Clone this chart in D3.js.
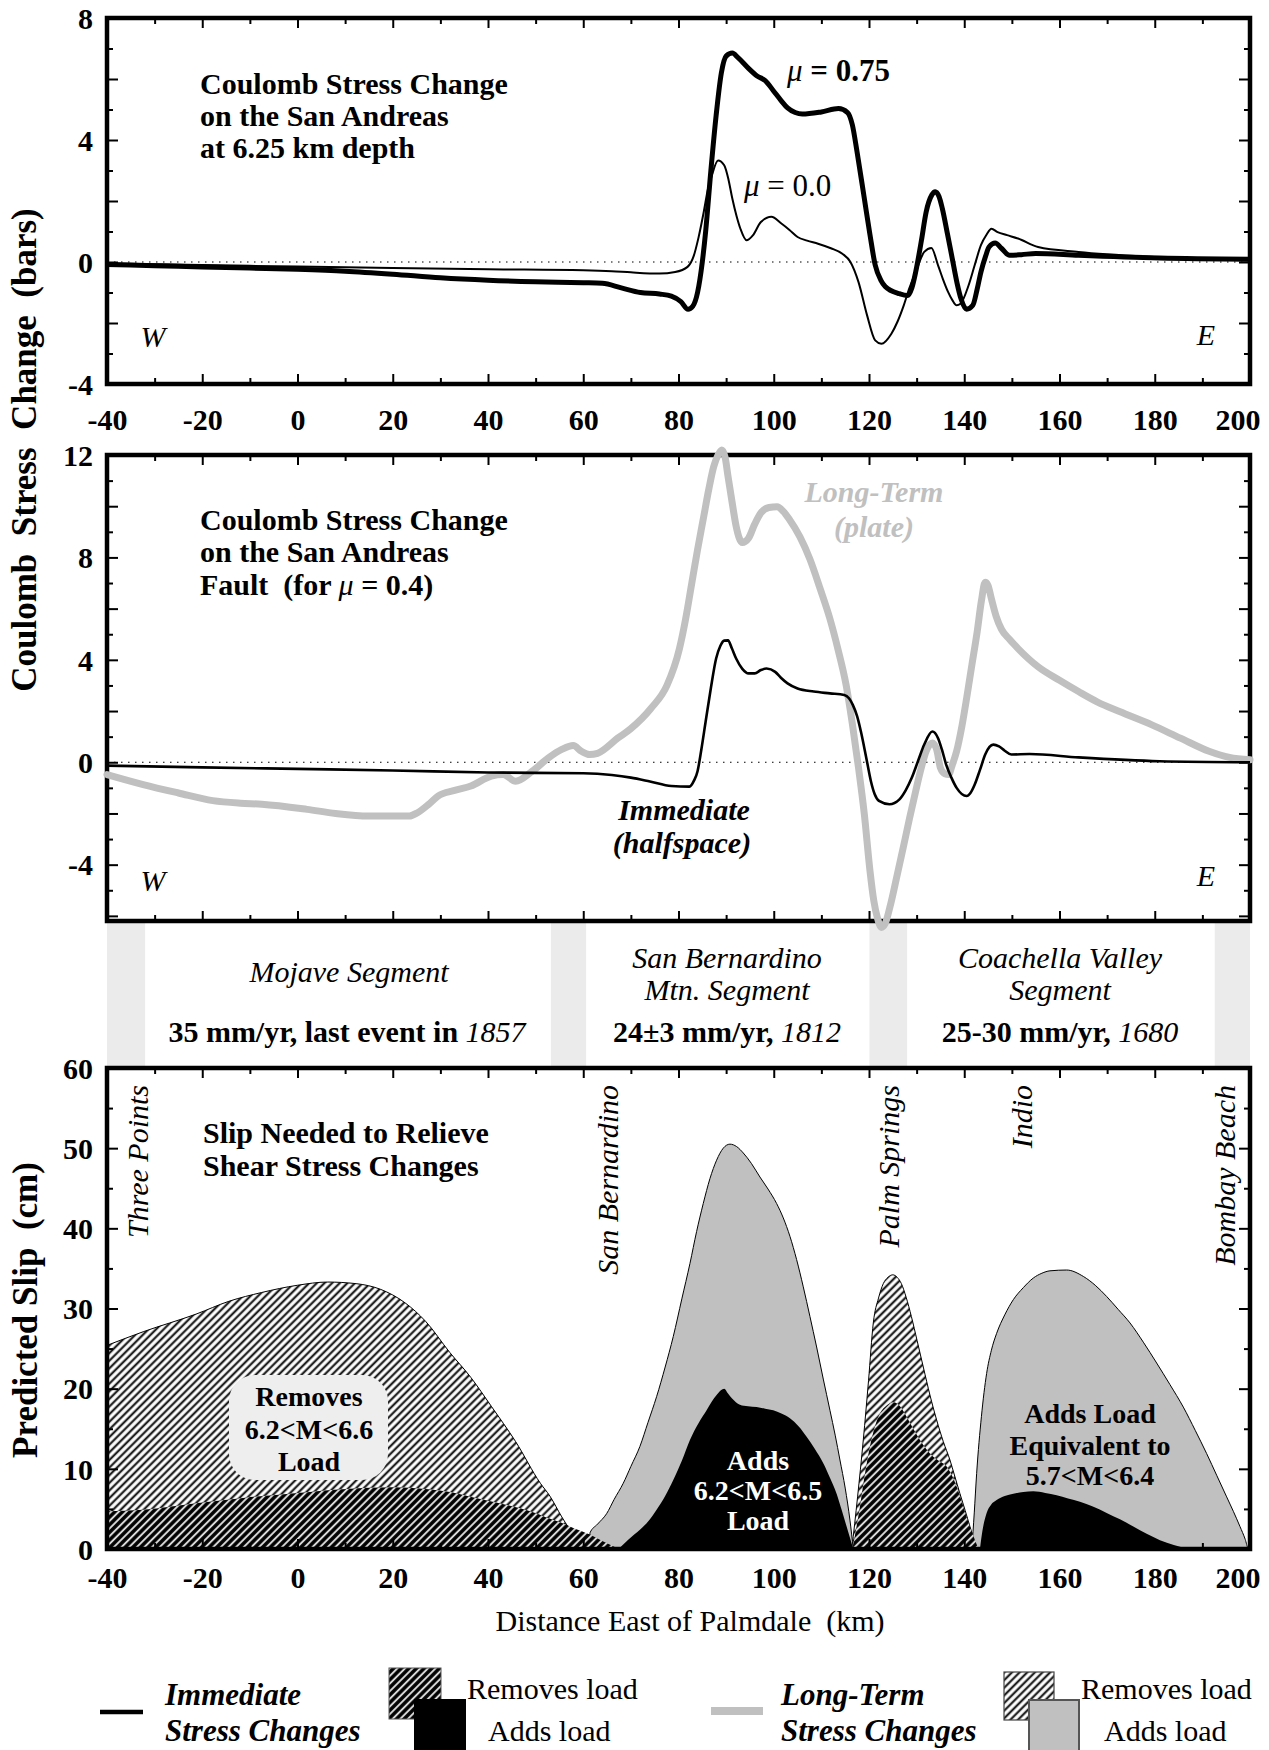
<!DOCTYPE html>
<html><head><meta charset="utf-8">
<script src="https://cdn.jsdelivr.net/npm/d3@7"></script>
<style>
body{margin:0;background:#fff;}
svg{display:block;}
</style></head><body>
<svg id="c" width="1269" height="1750"></svg>
<script>
// ---------------- DATA ----------------
const xTickLabels = [-40,-20,0,20,40,60,80,100,120,140,160,180,200];
const p1TickLabels = [8,4,0,-4];
const p2TickLabels = [12,8,4,0,-4];
const p3TickLabels = [0,10,20,30,40,50,60];

// Panel 1: Coulomb stress change at 6.25 km depth [km, bars]
const mu075 = [[-40,-0.08],[-30,-0.12],[-20,-0.16],[-10,-0.2],[0,-0.24],[10,-0.3],[20,-0.4],[30,-0.52],[40,-0.6],[50,-0.65],[60,-0.68],[64,-0.7],[68,-0.85],[72,-1.0],[76,-1.05],[78.5,-1.12],[80.5,-1.3],[82,-1.55],[83,-1.45],[84,-1.0],[85,0.0],[85.7,1.0],[86.8,3.0],[87.9,4.8],[89,6.2],[90,6.75],[91.3,6.85],[92.5,6.7],[94.7,6.35],[96.5,6.1],[98.2,5.95],[100,5.6],[101.5,5.3],[102.9,5.05],[104.5,4.9],[106,4.85],[110,4.92],[113.6,5.03],[115.5,4.9],[116.5,4.5],[117.5,3.6],[119,2.1],[120.2,0.9],[121.3,-0.1],[122.5,-0.6],[123.4,-0.8],[126.4,-1.04],[128.1,-1.1],[129,-0.85],[129.8,-0.33],[131,0.7],[132,1.64],[133.2,2.2],[133.9,2.3],[134.7,2.15],[135.4,1.75],[136.5,0.9],[137.5,0.1],[138.5,-0.7],[139.3,-1.2],[140.5,-1.55],[141.8,-1.42],[142.7,-0.9],[143.5,-0.33],[144.5,0.2],[145.2,0.49],[146.5,0.62],[147.8,0.45],[149.5,0.22],[152,0.24],[155,0.28],[164,0.22],[181,0.13],[200,0.09]];
const mu00 = [[-40,-0.05],[-20,-0.1],[0,-0.15],[20,-0.2],[40,-0.24],[60,-0.27],[66,-0.3],[70,-0.34],[76,-0.38],[79.3,-0.33],[81.9,-0.16],[83.2,0.2],[84.2,0.8],[85.3,1.64],[86.2,2.4],[87,2.84],[88.3,3.33],[89.6,3.17],[90.5,2.7],[91.3,2.08],[92.2,1.5],[93,1.09],[94.3,0.71],[95.6,0.87],[97.3,1.31],[99.5,1.48],[101.6,1.26],[103.3,1.05],[105,0.82],[107,0.7],[109.3,0.6],[112,0.45],[114.4,0.27],[116.1,0.0],[117.8,-0.66],[119.6,-1.75],[121.3,-2.57],[122.6,-2.68],[124.7,-2.35],[126,-1.95],[127.3,-1.42],[128.5,-0.85],[129.8,-0.33],[131.6,0.33],[133.1,0.46],[134.5,-0.11],[135.5,-0.55],[136.6,-0.98],[137.5,-1.25],[138.4,-1.42],[139.2,-1.37],[140.9,-0.77],[142.2,-0.1],[143.5,0.55],[144.7,0.9],[145.7,1.09],[147,0.98],[149,0.88],[151.3,0.77],[155.5,0.49],[164,0.33],[181,0.16],[200,0.05]];

// Panel 2: Coulomb stress change for mu = 0.4 [km, bars]
const immediate = [[-40,-0.13],[-20,-0.2],[0,-0.26],[20,-0.32],[40,-0.4],[60,-0.43],[66,-0.5],[70,-0.6],[74,-0.75],[78.5,-0.93],[82.3,-0.95],[83.3,-0.7],[84,-0.35],[84.8,0.5],[85.7,1.59],[86.8,2.9],[87.9,4.05],[88.8,4.55],[89.6,4.75],[90.4,4.76],[91.2,4.45],[92.1,4.05],[93.4,3.65],[94.7,3.47],[96,3.47],[97.3,3.6],[98.5,3.66],[100.3,3.53],[101.5,3.3],[102.9,3.08],[105,2.88],[108.4,2.76],[111.8,2.69],[114.8,2.63],[115.8,2.5],[116.6,2.24],[117.5,1.8],[118.3,1.2],[119.4,0.2],[120.4,-0.74],[121.2,-1.25],[122.1,-1.51],[124.3,-1.64],[126.4,-1.45],[127.7,-1.1],[129,-0.6],[130.3,0.05],[131.6,0.69],[133.3,1.2],[134.5,0.94],[135.3,0.5],[136.2,-0.09],[137.3,-0.6],[138.4,-1.0],[140.5,-1.32],[141.3,-1.2],[142.2,-0.87],[143.3,-0.3],[144.4,0.3],[145.3,0.6],[146.1,0.69],[147.3,0.62],[148.5,0.45],[149.9,0.3],[153.7,0.32],[164,0.19],[181,0.04],[200,0.0]];
const longTerm = [[-40,-0.48],[-32.4,-0.87],[-25,-1.2],[-17.8,-1.5],[-12,-1.6],[-7.5,-1.64],[2,-1.84],[8,-2.0],[14.9,-2.1],[23.5,-2.1],[25.2,-1.97],[27.5,-1.65],[29.5,-1.32],[33,-1.1],[36.4,-0.93],[40.7,-0.54],[43.2,-0.48],[45.8,-0.74],[49.3,-0.35],[52.7,0.17],[55.5,0.5],[57.9,0.65],[59.6,0.43],[61.3,0.3],[63,0.35],[67.3,0.95],[69.9,1.3],[74.2,2.1],[77.6,3.01],[80.2,4.44],[81.5,5.6],[82.7,6.9],[84,8.3],[85.3,9.6],[86.4,10.7],[87.4,11.55],[88.3,12.0],[89.1,12.2],[89.8,11.9],[90.4,11.16],[91.3,10.1],[92.1,9.22],[93.4,8.58],[94.7,8.75],[96,9.3],[97.3,9.74],[99,9.95],[100.7,9.98],[102,9.8],[103.3,9.48],[105.5,8.8],[107.6,7.93],[109.7,6.8],[111.8,5.6],[113.5,4.4],[115.2,3.01],[116.5,1.5],[117.8,-0.22],[119,-2.0],[120.2,-4.23],[121,-5.4],[121.8,-6.1],[122.6,-6.45],[123.4,-6.3],[124.4,-5.65],[125.8,-4.5],[127.2,-3.32],[128.5,-2.2],[129.8,-1.13],[131,-0.2],[132,0.43],[133.3,0.75],[134.2,0.5],[135,-0.22],[135.9,-0.45],[136.7,-0.48],[137.5,-0.1],[138.4,0.43],[139.5,1.4],[140.5,2.5],[141.6,3.8],[142.7,5.08],[143.6,6.3],[144.4,7.03],[145,6.9],[145.7,6.39],[146.7,5.7],[147.8,5.2],[149.5,4.8],[151.3,4.44],[155.5,3.73],[160,3.2],[164,2.76],[168,2.35],[172.6,1.98],[179.4,1.46],[185.4,0.94],[191.4,0.43],[195.7,0.19],[200,0.1]];

// Segment band: shaded gaps [km start, km end]
const gapStripes = [[-40,-32],[53.2,60.6],[120.1,128],[192.6,200]];

// Panel 3: predicted slip [km, cm]
const ltRemovesA = [[-40,25.4],[-32.4,27.1],[-21.3,29.3],[-14.4,30.9],[-7.5,32.0],[0,32.9],[6.3,33.3],[12.3,33.1],[17.4,32.4],[22.6,30.7],[26.9,28.4],[32,24.5],[36.4,21.4],[40.7,17.8],[45.8,13.4],[51,8.2],[53,6.6],[55.5,4.0],[57,2.6],[58.5,1.4],[60,0]];
const ltRemovesB = [[116.4,0],[117.6,6.5],[118.8,13.6],[119.9,21],[120.9,28.2],[122,31.3],[123,33.1],[124,33.9],[125,34.2],[125.9,33.9],[126.8,33.1],[127.8,31.4],[128.9,29.0],[130.1,26],[131.4,22.7],[132.8,19.2],[134.2,16.1],[135.6,13.4],[137.0,11.1],[138,9.1],[139.1,6.9],[140.2,4.8],[141.2,2.8],[142.1,1.2],[143,0]];
const ltAddsA = [[61.4,0],[61.4,2.0],[63,3.1],[64.9,4.4],[66.5,6.2],[68.4,8.2],[70,10.3],[71.9,12.8],[73.6,15.8],[75.4,19.0],[77.2,22.7],[78.9,26.5],[80.7,31.2],[82.4,35.6],[83.8,39.6],[85.2,43.1],[86.6,46.2],[88.0,48.5],[89.4,50.0],[90.8,50.5],[92.2,50.2],[93.6,49.4],[95.3,48.1],[97.1,46.4],[98.8,44.9],[100.6,43.1],[102,41.3],[103.4,39.0],[104.8,36.1],[106.2,32.7],[107.6,29.0],[109.0,25.2],[110.4,21.2],[111.8,17.3],[112.9,14.2],[113.9,11.1],[115,7.6],[116,3.6],[116.7,0]];
const ltAddsB = [[141.6,0],[142.1,4.5],[142.6,9.4],[143.6,16.5],[144.7,21.9],[145.7,24.8],[146.8,26.9],[148.5,29.2],[150.3,31.1],[152.4,32.6],[154.5,33.8],[156.3,34.4],[158,34.7],[161.5,34.8],[165,34.0],[167.5,32.9],[169.9,31.5],[172.3,29.9],[174.8,28.2],[177.6,25.8],[180.4,23.2],[183.2,20.5],[186,17.7],[188.5,14.8],[190.9,11.9],[193,9.2],[195.1,6.5],[196.5,4.7],[197.9,2.8],[199,1.2],[199.6,0.1],[200,0]];
const imRemovesA = [[-40,4.7],[-32.4,4.9],[-21.3,5.7],[-11,6.4],[0,7.0],[10.3,7.5],[20,7.7],[26.9,7.5],[32,7.1],[37.2,6.4],[42.4,5.7],[49.3,4.6],[52,4.0],[55.3,3.3],[58,2.6],[61.4,1.8],[64,1.0],[67.5,0]];
const imRemovesB = [[116.5,0],[117.3,2.5],[118.1,5.3],[119.1,9.2],[120.2,12.8],[121.2,15.2],[122.3,16.9],[123.7,17.9],[125.1,18.3],[126.5,17.8],[127.9,16.5],[129.3,15.0],[130.7,13.6],[132.1,12.4],[133.5,11.5],[134.9,10.9],[136.3,10.3],[137.4,9.2],[138.4,7.8],[139.5,5.9],[140.5,4.0],[141.8,1.8],[143,0]];
const imAddsA = [[67.4,0],[69.5,1.2],[71.9,2.4],[73.7,3.5],[75.4,4.9],[77.2,6.6],[78.9,8.6],[80.7,11.0],[82.4,13.6],[84.2,15.7],[85.9,17.3],[87,18.4],[88.0,19.2],[88.9,19.8],[89.6,20.0],[90.4,19.4],[91.2,18.8],[92.9,18.0],[94.6,17.8],[96.4,17.7],[98.2,17.5],[99.9,17.3],[101.6,16.9],[103.4,16.3],[105.2,15.3],[106.9,14.0],[108.6,12.5],[110.4,10.7],[111.8,8.9],[113.2,6.9],[114.3,4.8],[115.3,2.8],[116.7,0]];
const imAddsB = [[143.3,0],[143.8,2.2],[144.7,4.5],[145.6,5.5],[146.8,6.1],[148.5,6.6],[150.3,6.9],[152.4,7.1],[154.5,7.2],[157,7.0],[159.4,6.7],[161.8,6.3],[164.3,5.9],[167,5.3],[169.9,4.5],[172.7,3.7],[175.5,2.8],[178.3,1.9],[181.1,1.1],[184,0.5],[187,0]];

// Town names and their km positions
const towns = ["Three Points","San Bernardino","Palm Springs","Indio","Bombay Beach"];
const townKm = [-33.5,65.2,124.2,152.1,194.8];

// ---------------- LAYOUT ----------------
const FONT = '"Liberation Serif","Times New Roman",Times,serif';
const svg = d3.select("#c").attr("font-family", FONT);
const X0 = 107, X1 = 1250;
const x = d3.scaleLinear().domain([-40,200]).range([X0,X1]);
const y1 = d3.scaleLinear().domain([-4,8]).range([384,18]);
const y2 = d3.scaleLinear().domain([-6.2,12]).range([921,455]);
const y3 = d3.scaleLinear().domain([0,60]).range([1549,1068]);

const defs = svg.append("defs");
function hatch(id, bg, fg, w, per){
  const p = defs.append("pattern").attr("id",id).attr("patternUnits","userSpaceOnUse")
    .attr("width",per).attr("height",per).attr("patternTransform","rotate(45)");
  p.append("rect").attr("width",per).attr("height",per).attr("fill",bg);
  p.append("line").attr("x1",per/2).attr("y1",-1).attr("x2",per/2).attr("y2",per+1).attr("stroke",fg).attr("stroke-width",w);
}
hatch("hatchLight","#ffffff","#222222",2.3,5.4);
hatch("hatchDark","#000000","#d8d8d8",2.0,5.4);

const range = (a,b,s)=>d3.range(a,b+s/2,s);
const xMajor = range(-40,200,20), xMinor = range(-30,190,20);

function ticks(y, yMajor, yMinor){
  const [bot, top] = y.range();
  const defsAx = [
    [d3.axisBottom(x).tickValues(xMajor).tickSize(-10), `translate(0,${bot})`],
    [d3.axisBottom(x).tickValues(xMinor).tickSize(-6), `translate(0,${bot})`],
    [d3.axisTop(x).tickValues(xMajor).tickSize(-10), `translate(0,${top})`],
    [d3.axisTop(x).tickValues(xMinor).tickSize(-6), `translate(0,${top})`],
    [d3.axisLeft(y).tickValues(yMajor).tickSize(-11), `translate(${X0},0)`],
    [d3.axisLeft(y).tickValues(yMinor).tickSize(-6), `translate(${X0},0)`],
    [d3.axisRight(y).tickValues(yMajor).tickSize(-11), `translate(${X1},0)`],
    [d3.axisRight(y).tickValues(yMinor).tickSize(-6), `translate(${X1},0)`]
  ];
  defsAx.forEach(([ax,tr])=>{
    const g = svg.append("g").attr("transform",tr).call(ax.tickFormat(""));
    g.select(".domain").remove();
    g.selectAll("line").attr("stroke","#000").attr("stroke-width",2);
  });
}
function frame(y){
  const [bot, top] = y.range();
  svg.append("rect").attr("x",X0).attr("y",top).attr("width",X1-X0).attr("height",bot-top)
    .attr("fill","none").attr("stroke","#000").attr("stroke-width",4.5);
}
function yLabels(y, vals){
  const g = svg.append("g").attr("transform",`translate(${X0},0)`)
    .call(d3.axisLeft(y).tickValues(vals).tickSize(0).tickPadding(14).tickFormat(d=>String(d)));
  g.select(".domain").remove();
  g.attr("font-family",FONT).attr("font-size",30);
  g.selectAll("text").attr("fill","#000").attr("dy","0.34em").attr("font-weight","bold")
    .attr("font-family",FONT).attr("font-size",30);
}
function xLabels(y, pad){
  const g = svg.append("g").attr("transform",`translate(0,${y.range()[0]})`)
    .call(d3.axisBottom(x).tickValues(xTickLabels).tickSize(0).tickPadding(pad).tickFormat(d=>String(d)));
  g.select(".domain").remove();
  g.attr("font-family",FONT).attr("font-size",30);
  g.selectAll("text").attr("fill","#000").attr("font-weight","bold").attr("font-family",FONT).attr("font-size",30);
  g.selectAll(".tick text").filter(d=>d===200).attr("text-anchor","end").attr("dx",10);
}
function zeroLine(y){
  svg.append("line").attr("x1",X0).attr("x2",X1).attr("y1",y(0)).attr("y2",y(0))
    .attr("stroke","#000").attr("stroke-width",1.2).attr("stroke-dasharray","1.5,5.5");
}
function text(xp, yp, parts, opts={}){
  const t = svg.append("text").attr("x",xp).attr("y",yp)
    .attr("font-size",opts.size||30).attr("text-anchor",opts.anchor||"start")
    .attr("fill",opts.fill||"#000").style("white-space","pre");
  if(opts.transform) t.attr("transform",opts.transform);
  parts.forEach(p=>{
    const s = typeof p === "string" ? {t:p} : p;
    t.append("tspan").text(s.t).attr("font-weight",s.b?"bold":"normal").attr("font-style",s.i?"italic":"normal");
  });
  return t;
}
const B = s=>({t:s,b:true}), I = s=>({t:s,i:true}), BI = s=>({t:s,b:true,i:true});

// ---------------- PANEL 1 ----------------
zeroLine(y1);
const line1 = d3.line().x(d=>x(d[0])).y(d=>y1(d[1])).curve(d3.curveMonotoneX);
svg.append("path").attr("d",line1(mu00)).attr("fill","none").attr("stroke","#000").attr("stroke-width",2).attr("stroke-linejoin","round");
svg.append("path").attr("d",line1(mu075)).attr("fill","none").attr("stroke","#000").attr("stroke-width",5).attr("stroke-linejoin","round");
ticks(y1, range(-4,8,2), range(-3,7,2));
frame(y1);
yLabels(y1, p1TickLabels);
xLabels(y1, 25);
text(200,94,[B("Coulomb Stress Change")]);
text(200,126,[B("on the San Andreas")]);
text(200,158,[B("at 6.25 km depth")]);
text(787,81,[I("μ"),B(" = 0.75")],{size:31});
text(744,196,[I("μ"),{t:" = 0.0"}],{size:31});
text(153,347,[I("W")],{anchor:"middle"});
text(1206,345,[I("E")],{anchor:"middle"});

// ---------------- PANEL 2 ----------------
zeroLine(y2);
ticks(y2, range(-6,12,2), range(-5,11,2));
frame(y2);
const line2 = d3.line().x(d=>x(d[0])).y(d=>y2(d[1])).curve(d3.curveMonotoneX);
svg.append("path").attr("d",line2(longTerm)).attr("fill","none").attr("stroke","#c0c0c0").attr("stroke-width",7).attr("stroke-linejoin","round").attr("stroke-linecap","round");
svg.append("path").attr("d",line2(immediate)).attr("fill","none").attr("stroke","#000").attr("stroke-width",2.6).attr("stroke-linejoin","round");
yLabels(y2, p2TickLabels);
text(200,530,[B("Coulomb Stress Change")]);
text(200,562,[B("on the San Andreas")]);
text(200,595,[B("Fault  (for "),I("μ"),B(" = 0.4)")]);
text(874,502,[BI("Long-Term")],{anchor:"middle",fill:"#c0c0c0"});
text(874,537,[BI("(plate)")],{anchor:"middle",fill:"#c0c0c0"});
text(684,820,[BI("Immediate")],{anchor:"middle"});
text(682,853,[BI("(halfspace)")],{anchor:"middle"});
text(153,891,[I("W")],{anchor:"middle"});
text(1206,886,[I("E")],{anchor:"middle"});

// shared y title
text(36,450,[B("Coulomb  Stress  Change  (bars)")],{size:35,anchor:"middle",transform:"rotate(-90,36,450)"});

// ---------------- SEGMENT BAND ----------------
const bandTop = 923, bandBot = 1066;
svg.insert("g",":first-child").selectAll("rect").data(gapStripes).join("rect")
  .attr("x",d=>x(d[0])).attr("width",d=>x(d[1])-x(d[0]))
  .attr("y",bandTop).attr("height",bandBot-bandTop).attr("fill","#ebebeb");
text(349,982,[I("Mojave Segment")],{anchor:"middle"});
text(347,1042,[B("35 mm/yr, last event in "),I("1857")],{anchor:"middle"});
text(727,968,[I("San Bernardino")],{anchor:"middle"});
text(727,1000,[I("Mtn. Segment")],{anchor:"middle"});
text(727,1042,[B("24±3 mm/yr, "),I("1812")],{anchor:"middle"});
text(1060,968,[I("Coachella Valley")],{anchor:"middle"});
text(1060,1000,[I("Segment")],{anchor:"middle"});
text(1060,1042,[B("25-30 mm/yr, "),I("1680")],{anchor:"middle"});

// ---------------- PANEL 3 ----------------
const area3 = d3.area().x(d=>x(d[0])).y0(y3(0)).y1(d=>y3(d[1])).curve(d3.curveMonotoneX);
const top3 = d3.line().x(d=>x(d[0])).y(d=>y3(d[1])).curve(d3.curveMonotoneX);
[ltRemovesA, ltRemovesB].forEach(d=>{
  svg.append("path").attr("d",area3(d)).attr("fill","url(#hatchLight)");
  svg.append("path").attr("d",top3(d)).attr("fill","none").attr("stroke","#000").attr("stroke-width",1);
});
[ltAddsA, ltAddsB].forEach(d=>{
  svg.append("path").attr("d",area3(d)).attr("fill","#c0c0c0");
  svg.append("path").attr("d",top3(d)).attr("fill","none").attr("stroke","#000").attr("stroke-width",1);
});
[imRemovesA, imRemovesB].forEach(d=>{
  svg.append("path").attr("d",area3(d)).attr("fill","url(#hatchDark)");
});
[imAddsA, imAddsB].forEach(d=>{
  svg.append("path").attr("d",area3(d)).attr("fill","#000");
});
ticks(y3, range(0,60,10), range(5,55,10));
frame(y3);
yLabels(y3, p3TickLabels);
xLabels(y3, 18);

towns.forEach((n,i)=>{
  const tx = x(townKm[i]) + 10, ty = 1085;
  text(tx,ty,[I(n)],{anchor:"end",transform:`rotate(-90,${tx},${ty})`});
});
text(203,1143,[B("Slip Needed to Relieve")]);
text(203,1176,[B("Shear Stress Changes")]);
svg.append("rect").attr("x",229).attr("y",1375).attr("width",159).attr("height",105).attr("rx",26).attr("fill","#eeeeee");
text(309,1406,[B("Removes")],{anchor:"middle",size:28});
text(309,1439,[B("6.2<M<6.6")],{anchor:"middle",size:28});
text(309,1471,[B("Load")],{anchor:"middle",size:28});
text(758,1470,[B("Adds")],{anchor:"middle",size:28,fill:"#fff"});
text(758,1500,[B("6.2<M<6.5")],{anchor:"middle",size:28,fill:"#fff"});
text(758,1530,[B("Load")],{anchor:"middle",size:28,fill:"#fff"});
text(1090,1423,[B("Adds Load")],{anchor:"middle",size:28});
text(1090,1455,[B("Equivalent to")],{anchor:"middle",size:28});
text(1090,1485,[B("5.7<M<6.4")],{anchor:"middle",size:28});

text(37,1310,[B("Predicted Slip  (cm)")],{size:35,anchor:"middle",transform:"rotate(-90,37,1310)"});
text(690,1631,[{t:"Distance East of Palmdale  (km)"}],{anchor:"middle"});

// ---------------- LEGEND ----------------
svg.append("line").attr("x1",100).attr("x2",143).attr("y1",1712).attr("y2",1712).attr("stroke","#000").attr("stroke-width",4.5);
text(165,1705,[BI("Immediate")],{size:31});
text(165,1741,[BI("Stress Changes")],{size:31});
svg.append("rect").attr("x",389).attr("y",1668).attr("width",52).attr("height",51).attr("fill","url(#hatchDark)").attr("stroke","#555").attr("stroke-width",1);
svg.append("rect").attr("x",414).attr("y",1699).attr("width",52).attr("height",55).attr("fill","#000");
text(467,1699,[{t:"Removes load"}]);
text(488,1741,[{t:"Adds load"}]);
svg.append("line").attr("x1",711).attr("x2",763).attr("y1",1711).attr("y2",1711).attr("stroke","#c0c0c0").attr("stroke-width",8);
text(781,1705,[BI("Long-Term")],{size:31});
text(781,1741,[BI("Stress Changes")],{size:31});
svg.append("rect").attr("x",1004).attr("y",1672).attr("width",50).attr("height",48).attr("fill","url(#hatchLight)").attr("stroke","#444").attr("stroke-width",1.2);
svg.append("rect").attr("x",1029).attr("y",1700).attr("width",50).attr("height",55).attr("fill","#c0c0c0").attr("stroke","#555").attr("stroke-width",2);
text(1081,1699,[{t:"Removes load"}]);
text(1104,1741,[{t:"Adds load"}]);
</script>
</body></html>
